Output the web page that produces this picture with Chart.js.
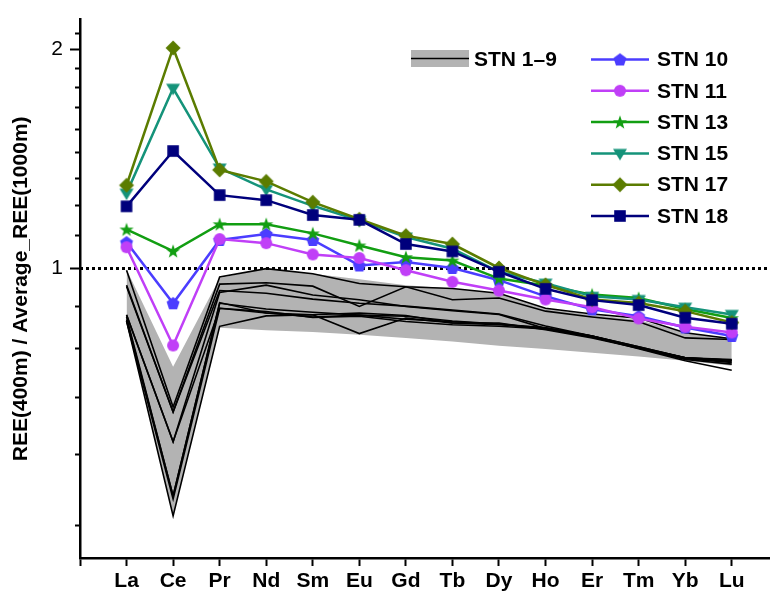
<!DOCTYPE html>
<html>
<head>
<meta charset="utf-8">
<script src="https://cdn.jsdelivr.net/npm/chart.js@4/dist/chart.umd.min.js"></script>
<style>
  html, body { margin: 0; padding: 0; background: #ffffff; overflow: hidden; }
  #wrap { width: 776px; height: 594px; }
</style>
</head>
<body>
<div id="wrap"><canvas id="c" width="776" height="594"></canvas></div>
<script>
// Rare earth elements along the x axis
const elements = ['La', 'Ce', 'Pr', 'Nd', 'Sm', 'Eu', 'Gd', 'Tb', 'Dy', 'Ho', 'Er', 'Tm', 'Yb', 'Lu'];

// Labelled y ticks (log scale) and minor tick values
const yMajorTicks = [1, 2];
const yMinorTicks = [4/9, 5/9, 6/9, 7/9, 8/9, 10/9, 11/9, 12/9, 13/9, 14/9, 15/9, 16/9, 17/9, 19/9];
const referenceLevel = 1;

// Range envelope of stations 1–9
const bandUpper = [0.997, 0.733, 0.971, 1.000, 0.984, 0.967, 0.949, 0.939, 0.925, 0.882, 0.864, 0.850, 0.816, 0.803];
const bandLower = [0.847, 0.457, 0.829, 0.823, 0.818, 0.811, 0.803, 0.794, 0.783, 0.775, 0.766, 0.757, 0.747, 0.735];

// Individual profiles of stations 1–9
const stn1 = [0.995, 0.645, 0.974, 1.000, 0.984, 0.954, 0.944, 0.939, 0.925, 0.882, 0.866, 0.855, 0.816, 0.801];
const stn2 = [0.949, 0.635, 0.952, 0.956, 0.946, 0.887, 0.944, 0.906, 0.911, 0.874, 0.858, 0.845, 0.803, 0.799];
const stn3 = [0.864, 0.578, 0.927, 0.949, 0.920, 0.906, 0.887, 0.875, 0.865, 0.827, 0.807, 0.778, 0.754, 0.748];
const stn4 = [0.851, 0.487, 0.898, 0.869, 0.864, 0.869, 0.862, 0.842, 0.842, 0.824, 0.803, 0.777, 0.750, 0.739];
const stn5 = [0.847, 0.482, 0.882, 0.873, 0.857, 0.860, 0.846, 0.837, 0.833, 0.826, 0.806, 0.776, 0.747, 0.725];
const stn6 = [0.847, 0.457, 0.833, 0.861, 0.864, 0.814, 0.855, 0.842, 0.837, 0.829, 0.808, 0.781, 0.754, 0.745];
const stn7 = [0.858, 0.487, 0.896, 0.880, 0.871, 0.863, 0.852, 0.845, 0.839, 0.826, 0.805, 0.778, 0.752, 0.743];
const stn8 = [0.945, 0.635, 0.933, 0.925, 0.908, 0.896, 0.888, 0.877, 0.866, 0.834, 0.808, 0.778, 0.754, 0.750];
const stn9 = [0.863, 0.578, 0.882, 0.869, 0.858, 0.863, 0.860, 0.847, 0.839, 0.829, 0.808, 0.781, 0.754, 0.748];

// Highlighted stations
const stn10 = [1.087, 0.896, 1.095, 1.116, 1.095, 1.010, 1.021, 1.002, 0.964, 0.916, 0.879, 0.860, 0.830, 0.808];
const stn11 = [1.070, 0.784, 1.098, 1.084, 1.046, 1.034, 0.995, 0.959, 0.933, 0.907, 0.885, 0.854, 0.832, 0.817];
const stn13 = [1.132, 1.057, 1.151, 1.151, 1.118, 1.076, 1.037, 1.026, 0.969, 0.948, 0.921, 0.911, 0.880, 0.855];
const stn15 = [1.270, 1.770, 1.375, 1.285, 1.220, 1.165, 1.105, 1.065, 0.990, 0.955, 0.916, 0.907, 0.885, 0.865];
const stn17 = [1.302, 2.011, 1.367, 1.318, 1.234, 1.169, 1.110, 1.081, 1.002, 0.950, 0.907, 0.897, 0.874, 0.843];
const stn18 = [1.218, 1.451, 1.262, 1.242, 1.185, 1.167, 1.081, 1.056, 0.990, 0.938, 0.905, 0.891, 0.856, 0.840];

const FONT = '"Liberation Sans", Arial, sans-serif';
const TEXT_SIZE = 21;

// Marker sprites
function makeMarker(shape, color) {
  const s = 20, c = s / 2;
  const cv = document.createElement('canvas');
  cv.width = s; cv.height = s;
  const g = cv.getContext('2d');
  g.fillStyle = color;
  g.beginPath();
  if (shape === 'circle') {
    g.arc(c, c, 6, 0, Math.PI * 2);
  } else if (shape === 'pentagon') {
    for (let k = 0; k < 5; k++) {
      const a = -Math.PI / 2 + k * 2 * Math.PI / 5;
      const px = c + 6.8 * Math.cos(a), py = c + 0.6 + 6.8 * Math.sin(a);
      k ? g.lineTo(px, py) : g.moveTo(px, py);
    }
  } else if (shape === 'star') {
    for (let k = 0; k < 10; k++) {
      const r = k % 2 ? 3.0 : 7.4;
      const a = -Math.PI / 2 + k * Math.PI / 5;
      const px = c + r * Math.cos(a), py = c + 0.6 + r * Math.sin(a);
      k ? g.lineTo(px, py) : g.moveTo(px, py);
    }
  } else if (shape === 'triDown') {
    g.moveTo(c - 7, c - 4.5);
    g.lineTo(c + 7, c - 4.5);
    g.lineTo(c, c + 7);
  } else if (shape === 'diamond') {
    g.moveTo(c, c - 7.5);
    g.lineTo(c + 7.5, c);
    g.lineTo(c, c + 7.5);
    g.lineTo(c - 7.5, c);
  } else if (shape === 'square') {
    g.rect(c - 5.8, c - 5.8, 11.6, 11.6);
  }
  g.closePath();
  g.fill();
  return cv;
}

const series = [
  { label: 'STN 10', data: stn10, color: '#4b3dff', shape: 'pentagon' },
  { label: 'STN 11', data: stn11, color: '#c03ff7', shape: 'circle' },
  { label: 'STN 13', data: stn13, color: '#129e12', shape: 'star' },
  { label: 'STN 15', data: stn15, color: '#15937a', shape: 'triDown' },
  { label: 'STN 17', data: stn17, color: '#5b7c00', shape: 'diamond' },
  { label: 'STN 18', data: stn18, color: '#00007c', shape: 'square' }
];
series.forEach(s => { s.sprite = makeMarker(s.shape, s.color); });

const toPoints = arr => arr.map((v, i) => ({ x: i, y: v }));

const datasets = [];
// envelope fill
datasets.push({
  label: 'band-upper', data: toPoints(bandUpper), fill: '+1',
  backgroundColor: '#b3b3b3', borderWidth: 0, pointRadius: 0, order: 20
});
datasets.push({
  label: 'band-lower', data: toPoints(bandLower), fill: false,
  borderWidth: 0, pointRadius: 0, order: 21
});
// background station profiles
[stn1, stn2, stn3, stn4, stn5, stn6, stn7, stn8, stn9].forEach((arr, i) => {
  datasets.push({
    label: 'STN ' + (i + 1), data: toPoints(arr), fill: false,
    borderColor: '#000000', borderWidth: 1.6, pointRadius: 0, order: 10
  });
});
// reference level
datasets.push({
  label: 'ref', data: [{ x: -1, y: referenceLevel }, { x: 13.8, y: referenceLevel }],
  fill: false, borderColor: '#000000', borderWidth: 3, borderDash: [3, 3],
  pointRadius: 0, order: 8
});
// highlighted stations (later ones drawn on top)
series.forEach((s, i) => {
  datasets.push({
    label: s.label, data: toPoints(s.data), fill: false,
    borderColor: s.color, borderWidth: 2.5,
    pointStyle: s.sprite, pointRadius: 7, pointBorderWidth: 0,
    order: 7 - i
  });
});

// minor ticks on the y axis
const minorTicks = {
  id: 'minorTicks',
  afterDraw(chart) {
    const ctx = chart.ctx, y = chart.scales.y;
    ctx.save();
    ctx.strokeStyle = '#000';
    ctx.lineWidth = 2;
    yMinorTicks.forEach(v => {
      const py = Math.round(y.getPixelForValue(v)) + 0.5;
      if (py < chart.chartArea.top || py > chart.chartArea.bottom) return;
      ctx.beginPath();
      ctx.moveTo(y.right - 5, py);
      ctx.lineTo(y.right, py);
      ctx.stroke();
    });
    ctx.restore();
  }
};

// legend block
const legendBlock = {
  id: 'legendBlock',
  afterDraw(chart) {
    const ctx = chart.ctx;
    ctx.save();
    ctx.font = 'bold ' + TEXT_SIZE + 'px ' + FONT;
    ctx.textBaseline = 'middle';
    ctx.textAlign = 'left';
    // stations 1–9 entry
    ctx.fillStyle = '#b3b3b3';
    ctx.fillRect(411, 50, 58, 17);
    ctx.strokeStyle = '#000';
    ctx.lineWidth = 1.6;
    ctx.beginPath(); ctx.moveTo(411, 58.5); ctx.lineTo(469, 58.5); ctx.stroke();
    ctx.fillStyle = '#000';
    ctx.fillText('STN 1\u20139', 474, 60);
    // highlighted stations
    series.forEach((s, i) => {
      const cy = 59.5 + i * 31.3;
      ctx.strokeStyle = s.color;
      ctx.lineWidth = 2.5;
      ctx.beginPath(); ctx.moveTo(591, cy); ctx.lineTo(649, cy); ctx.stroke();
      ctx.drawImage(s.sprite, 620 - s.sprite.width / 2, cy - s.sprite.height / 2);
      ctx.fillStyle = '#000';
      ctx.fillText(s.label, 657, cy + 1);
    });
    ctx.restore();
  }
};

new Chart(document.getElementById('c'), {
  type: 'line',
  data: { datasets },
  plugins: [minorTicks, legendBlock],
  options: {
    responsive: false,
    animation: false,
    devicePixelRatio: 1,
    layout: { padding: { top: 13, right: 0, bottom: 0, left: 0 } },
    plugins: { legend: { display: false }, tooltip: { enabled: false } },
    elements: { line: { tension: 0 } },
    scales: {
      x: {
        type: 'linear', min: -1, max: 13.8,
        afterBuildTicks: s => { s.ticks = [-1].concat(elements.map((e, i) => i)).map(v => ({ value: v })); },
        afterFit: s => { s.height = 36; },
        grid: { drawOnChartArea: false, tickLength: 8, tickWidth: 2, tickColor: '#000' },
        border: { width: 2.5, color: '#000' },
        ticks: {
          autoSkip: false, maxRotation: 0, padding: 3, color: '#000',
          font: { family: FONT, size: TEXT_SIZE, weight: 'bold' },
          callback: v => (v >= 0 && elements[v] !== undefined) ? elements[v] : ''
        }
      },
      y: {
        type: 'logarithmic', min: 0.4, max: 2.2,
        afterBuildTicks: s => { s.ticks = yMajorTicks.map(v => ({ value: v })); },
        afterFit: s => { s.width = 80; },
        grid: { drawOnChartArea: false, tickLength: 10, tickWidth: 2, tickColor: '#000' },
        border: { width: 2.5, color: '#000' },
        ticks: {
          padding: 7, color: '#000',
          font: { family: FONT, size: TEXT_SIZE },
          callback: v => String(v)
        },
        title: {
          display: true, text: 'REE(400m) / Average_REE(1000m)', color: '#000',
          font: { family: FONT, size: TEXT_SIZE, weight: 'bold' },
          padding: { top: 9, bottom: 0 }
        }
      }
    }
  }
});
</script>
</body>
</html>
